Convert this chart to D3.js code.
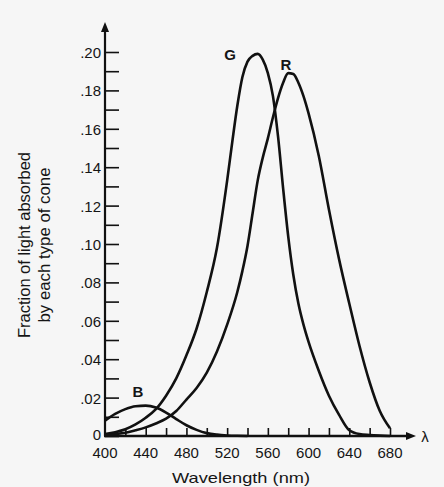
<!DOCTYPE html>
<html>
<head>
<meta charset="utf-8">
<script src="https://cdn.jsdelivr.net/npm/d3@7/dist/d3.min.js"></script>
<style>
  html, body { margin: 0; padding: 0; background: #f6f6f6; }
  svg { display: block; }
  text { font-family: "Liberation Sans", Arial, Helvetica, sans-serif; fill: #151515; }
</style>
</head>
<body>
<svg id="chart" width="444" height="487"></svg>
<script>
// ---- data ----
const blueWavelengths = [400,410,420,430,440,450,460,470,480,490,500,510,520,530,540];
const blueAbsorb      = [.008,.0115,.014,.0155,.0158,.0148,.0122,.0088,.0056,.0032,.0015,.0007,.0003,.0001,0];

const greenWavelengths = [400,410,420,430,440,450,460,470,480,490,500,510,520,525,530,535,540,545,550,555,560,565,570,575,580,585,590,595,600,610,620,630,640,650,660,670,680];
const greenAbsorb      = [.001,.002,.0035,.006,.0095,.014,.021,.030,.042,.056,.075,.098,.133,.153,.172,.187,.195,.198,.199,.196,.189,.177,.156,.129,.104,.084,.069,.058,.049,.034,.021,.011,.003,.001,.0005,.0002,0];

const redWavelengths = [400,410,420,430,440,450,460,470,480,490,500,510,520,530,535,540,545,550,555,560,565,570,575,580,585,590,595,600,610,620,630,640,650,660,670,680];
const redAbsorb      = [.0005,.001,.0017,.003,.0045,.0065,.009,.013,.019,.025,.033,.044,.058,.075,.086,.099,.116,.133,.145,.155,.166,.176,.184,.189,.1885,.184,.177,.168,.146,.118,.092,.069,.047,.028,.013,.004];

const curveLabels = ["B", "G", "R"];
const curveLabelPos = [[432.4, .0203], [522.8, .196], [577.8, .1906]]; // [nm, fraction] at each label's baseline centre

const yTickValues = [0,.01,.02,.03,.04,.05,.06,.07,.08,.09,.10,.11,.12,.13,.14,.15,.16,.17,.18,.19,.20];
const yTickLabels = {"0":"0", "0.02":".02", "0.04":".04", "0.06":".06", "0.08":".08", "0.1":".10", "0.12":".12", "0.14":".14", "0.16":".16", "0.18":".18", "0.2":".20"};
const xTickValues = [420,440,460,480,500,520,540,560,580,600,620,640,660,680];
const xTickLabels = ["400","440","480","520","560","600","640","680"];

const xTitle = "Wavelength (nm)";
const yTitleLines = ["Fraction of light absorbed", "by each type of cone"];
const xAxisSymbol = "λ";

// ---- drawing ----
const svg = d3.select("#chart");
const ink = "#111";

const x = d3.scaleLinear().domain([400, 680]).range([105, 390]);
const y = d3.scaleLinear().domain([0, 0.2]).range([436, 52]);

// y axis ticks (inward, to the right) and labels
const yAxis = d3.axisLeft(y)
  .tickValues(yTickValues)
  .tickSizeInner(-14)
  .tickSizeOuter(0)
  .tickPadding(4)
  .tickFormat(d => yTickLabels[String(+d.toFixed(2))] || "");
const gy = svg.append("g").attr("transform", `translate(${x(400)},0)`).call(yAxis);
gy.select(".domain").remove();
gy.selectAll(".tick line").attr("stroke", ink).attr("stroke-width", 1.6);
gy.selectAll(".tick text").attr("font-size", 15).attr("fill", ink)
  .attr("dy", d => d === 0 ? "0.2em" : "0.36em");

// x axis ticks (upward) and labels
const xAxis = d3.axisBottom(x)
  .tickValues(xTickValues)
  .tickSizeInner(-8)
  .tickSizeOuter(0)
  .tickPadding(10)
  .tickFormat(() => "");
const gx = svg.append("g").attr("transform", `translate(0,${y(0)})`).call(xAxis);
gx.select(".domain").remove();
gx.selectAll(".tick line").attr("stroke", ink).attr("stroke-width", 1.6);

svg.append("g").selectAll("text")
  .data(xTickLabels)
  .join("text")
  .attr("x", d => x(+d))
  .attr("y", 458)
  .attr("text-anchor", "middle")
  .attr("font-size", 15)
  .text(d => d);

// axis lines with arrows
svg.append("line")
  .attr("x1", x(400)).attr("y1", y(0)).attr("x2", x(400)).attr("y2", 30)
  .attr("stroke", ink).attr("stroke-width", 2.2);
svg.append("path")
  .attr("d", `M${x(400)},22 L${x(400) - 4},32 L${x(400) + 4},32 Z`)
  .attr("fill", ink);
svg.append("line")
  .attr("x1", x(400) - 1).attr("y1", y(0)).attr("x2", 408).attr("y2", y(0))
  .attr("stroke", ink).attr("stroke-width", 2.4);
svg.append("path")
  .attr("d", `M416,${y(0)} L406,${y(0) - 4} L406,${y(0) + 4} Z`)
  .attr("fill", ink);

// curves
const line = d3.line()
  .x(d => x(d[0]))
  .y(d => y(d[1]))
  .curve(d3.curveMonotoneX);

const series = [
  d3.zip(blueWavelengths, blueAbsorb),
  d3.zip(greenWavelengths, greenAbsorb),
  d3.zip(redWavelengths, redAbsorb)
];
svg.append("g").selectAll("path")
  .data(series)
  .join("path")
  .attr("d", line)
  .attr("fill", "none")
  .attr("stroke", ink)
  .attr("stroke-width", 2.6)
  .attr("stroke-linejoin", "round");

// curve labels
svg.append("g").selectAll("text")
  .data(curveLabels)
  .join("text")
  .attr("x", (d, i) => x(curveLabelPos[i][0]))
  .attr("y", (d, i) => y(curveLabelPos[i][1]))
  .attr("text-anchor", "middle")
  .attr("font-size", 15)
  .attr("font-weight", "bold")
  .attr("fill", "#3a3a3a")
  .text(d => d);

// lambda at end of x axis
svg.append("text")
  .attr("x", 425).attr("y", 442)
  .attr("text-anchor", "middle")
  .attr("font-size", 15)
  .text(xAxisSymbol);

// axis titles
svg.append("text")
  .attr("x", 241).attr("y", 483)
  .attr("text-anchor", "middle")
  .attr("font-size", 15)
  .attr("textLength", 138)
  .attr("lengthAdjust", "spacingAndGlyphs")
  .text(xTitle);

const yTitleX = [30, 49.5];
const yTitleLen = [186, 155];
yTitleLines.forEach((t, i) => {
  svg.append("text")
    .attr("transform", `translate(${yTitleX[i]},245) rotate(-90)`)
    .attr("text-anchor", "middle")
    .attr("font-size", 16)
    .attr("textLength", yTitleLen[i])
    .attr("lengthAdjust", "spacingAndGlyphs")
    .text(t);
});
</script>
</body>
</html>
